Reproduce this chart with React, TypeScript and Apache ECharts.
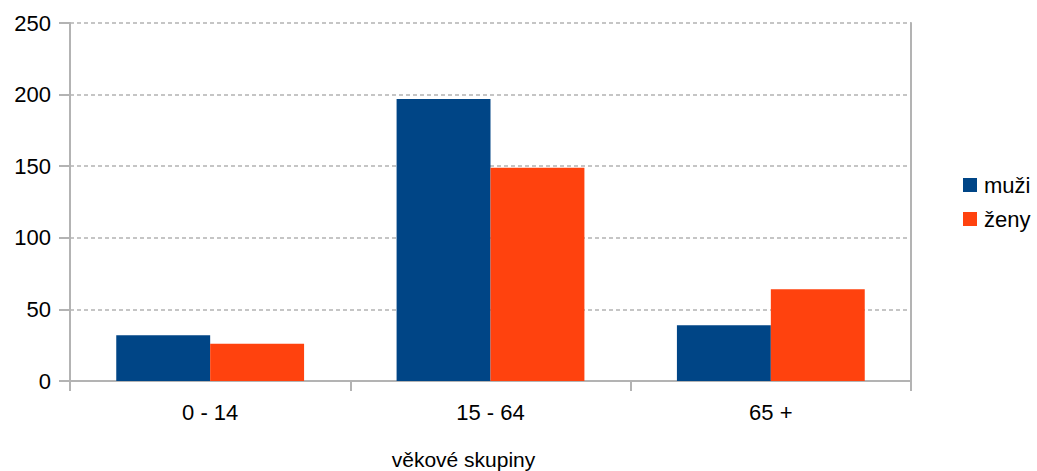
import React, { useEffect, useRef } from "react";
import * as echarts from "echarts";

const categories = ["0 - 14", "15 - 64", "65 +"];
const muzi = [32, 197, 39];
const zeny = [26, 149, 64];
const seriesNames = ["muži", "ženy"];
const xAxisName = "věkové skupiny";

const FONT = "'Liberation Sans', Arial, sans-serif";
const GRAY = "#b3b3b3";

export default function App() {
  const ref = useRef<HTMLDivElement>(null);
  useEffect(() => {
    if (!ref.current) return;
    const chart = echarts.init(ref.current, null, { renderer: "svg", width: 1037, height: 471 });
    chart.setOption({
      animation: false,
      backgroundColor: "#ffffff",
      textStyle: { fontFamily: FONT },
      grid: {
        left: 70,
        width: 841,
        top: 23,
        height: 358,
        containLabel: false,
        outerBoundsMode: "none",
      },
      legend: {
        orient: "vertical",
        left: 963,
        top: 174,
        padding: 0,
        itemWidth: 14,
        itemHeight: 14,
        itemGap: 12,
        icon: "rect",
        textStyle: { fontSize: 22, color: "#000", fontFamily: FONT, padding: [0, 0, 0, 2] },
        data: seriesNames,
      },
      xAxis: {
        type: "category",
        data: categories,
        boundaryGap: true,
        name: xAxisName,
        nameLocation: "middle",
        nameGap: 68,
        nameTextStyle: { fontSize: 21, color: "#000", fontFamily: FONT, padding: [0, 54, 0, 0] },
        axisLine: { show: true, lineStyle: { color: GRAY, width: 2 } },
        axisTick: { show: true, length: 10, lineStyle: { color: GRAY, width: 2 }, alignWithLabel: false },
        axisLabel: { fontSize: 22, color: "#000", margin: 20, fontFamily: FONT },
        splitLine: { show: false },
      },
      yAxis: [
        {
          type: "value",
          min: 0,
          max: 250,
          interval: 50,
          axisLine: { show: true, lineStyle: { color: GRAY, width: 2 } },
          axisTick: { show: true, length: 11, lineStyle: { color: GRAY, width: 2 } },
          axisLabel: { fontSize: 22, color: "#000", margin: 19, fontFamily: FONT },
          splitLine: { show: true, lineStyle: { color: GRAY, width: 1.5, type: [4, 3] } },
        },
        {
          type: "value",
          position: "right",
          min: 0,
          max: 250,
          interval: 50,
          axisLine: { show: true, lineStyle: { color: GRAY, width: 2 } },
          axisTick: { show: false },
          axisLabel: { show: false },
          splitLine: { show: false },
        },
      ],
      series: [
        {
          name: seriesNames[0],
          type: "bar",
          data: muzi,
          itemStyle: { color: "#004586" },
          barGap: "0%",
          barCategoryGap: "33%",
        },
        {
          name: seriesNames[1],
          type: "bar",
          data: zeny,
          itemStyle: { color: "#ff420e" },
          barGap: "0%",
          barCategoryGap: "33%",
        },
      ],
    });
    return () => chart.dispose();
  }, []);
  return (
    <div
      ref={ref}
      style={{ position: "absolute", left: 0, top: 0, width: 1037, height: 471 }}
    />
  );
}
